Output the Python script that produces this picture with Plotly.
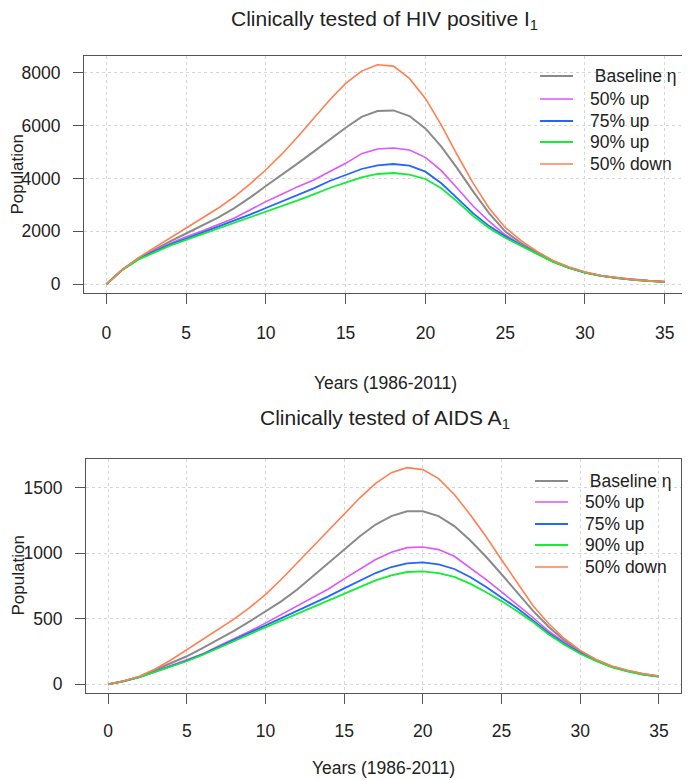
import plotly.graph_objects as go

years = list(range(36))

series_names = ["\u00a0Baseline \u03b7", "50% up", "75% up", "90% up", "50% down"]
series_colors = ["#8a8a8a", "#dd55ff", "#2266ff", "#11ee33", "#ff7f50"]
series_widths = [2.0, 1.6, 1.8, 1.8, 1.6]

# Clinically tested HIV positive I1
I1_baseline = [0, 550, 975, 1310, 1620, 1920, 2210, 2520, 2873, 3276, 3717, 4133, 4574, 5015, 5470, 5920, 6330, 6552,
               6577, 6363, 5897, 5204, 4385, 3503, 2684, 2000, 1560, 1190, 875, 636, 452, 325, 235, 171, 127, 92]
I1_up50 = [0, 548, 955, 1265, 1540, 1800, 2016, 2243, 2495, 2810, 3125, 3402, 3692, 3944, 4259, 4574, 4939, 5116,
           5153, 5078, 4800, 4297, 3629, 2950, 2380, 1870, 1500, 1160, 860, 626, 446, 320, 231, 168, 125, 90]
I1_up75 = [0, 545, 945, 1240, 1500, 1726, 1928, 2155, 2394, 2633, 2885, 3125, 3377, 3629, 3906, 4133, 4360, 4498,
           4549, 4486, 4259, 3818, 3251, 2680, 2200, 1810, 1470, 1145, 852, 620, 442, 316, 228, 165, 123, 88]
I1_up90 = [0, 540, 930, 1210, 1460, 1676, 1890, 2092, 2293, 2507, 2722, 2948, 3175, 3402, 3641, 3843, 4045, 4171,
           4208, 4145, 3982, 3629, 3125, 2580, 2120, 1760, 1450, 1130, 845, 615, 437, 312, 225, 162, 121, 86]
I1_down50 = [0, 555, 1000, 1380, 1760, 2142, 2495, 2873, 3300, 3790, 4330, 4920, 5582, 6275, 6968, 7598, 8064, 8303,
             8253, 7787, 7031, 6023, 4889, 3818, 2873, 2150, 1650, 1240, 900, 650, 460, 330, 240, 175, 130, 95]

# Clinically tested AIDS A1
A1_baseline = [0, 24, 58, 108, 158, 214, 276, 339, 408, 480, 556, 633, 722, 824, 926, 1028, 1130, 1219,
               1283, 1321, 1321, 1283, 1207, 1099, 975, 840, 698, 560, 437, 335, 252, 186, 137, 104, 79, 61]
A1_up50 = [0, 24, 56, 100, 142, 184, 232, 290, 345, 405, 467, 531, 594, 658, 727, 804, 880, 952,
           1008, 1043, 1048, 1028, 977, 890, 800, 705, 610, 510, 405, 320, 245, 182, 135, 102, 77, 60]
A1_up75 = [0, 24, 55, 97, 138, 180, 228, 283, 337, 393, 449, 502, 556, 612, 671, 732, 793, 849,
           895, 923, 931, 916, 880, 819, 745, 665, 580, 488, 390, 310, 238, 180, 133, 100, 75, 59]
A1_up90 = [0, 24, 55, 95, 136, 176, 224, 278, 330, 382, 435, 486, 537, 590, 643, 696, 747, 793,
           832, 857, 862, 849, 819, 768, 705, 635, 558, 475, 380, 302, 233, 178, 132, 99, 74, 58]
A1_down50 = [0, 26, 62, 117, 186, 263, 339, 416, 497, 585, 685, 800, 925, 1055, 1180, 1301, 1423, 1533,
             1615, 1653, 1638, 1569, 1449, 1296, 1130, 950, 770, 600, 462, 348, 259, 190, 140, 107, 81, 63]

x_ticks = [0, 5, 10, 15, 20, 25, 30, 35]
I1_ticks = [0, 2000, 4000, 6000, 8000]
A1_ticks = [0, 500, 1000, 1500]

top_title = "Clinically tested of HIV positive I<sub>1</sub>"
bottom_title = "Clinically tested of AIDS A<sub>1</sub>"
x_title = "Years (1986-2011)"
y_title = "Population"

FONT = "Liberation Sans, Arial, sans-serif"
TXT = "#222222"
OFF = 8              # page body margin
FW, FH = 682, 772    # figure size (visible part of the 690x780 window)


def px_x(p):
    return (p - OFF) / FW


def px_y(p):
    return 1 - (p - OFF) / FH


fig = go.Figure()
top_sets = [I1_baseline, I1_up50, I1_up75, I1_up90, I1_down50]
bot_sets = [A1_baseline, A1_up50, A1_up75, A1_up90, A1_down50]
for name, col, w, ys in zip(series_names, series_colors, series_widths, top_sets):
    fig.add_trace(go.Scatter(x=years, y=ys, mode="lines", name=name, showlegend=False,
                             line=dict(color=col, width=w), xaxis="x", yaxis="y"))
for name, col, w, ys in zip(series_names, series_colors, series_widths, bot_sets):
    fig.add_trace(go.Scatter(x=years, y=ys, mode="lines", name=name, showlegend=False,
                             line=dict(color=col, width=w), xaxis="x2", yaxis="y2"))

top_max = max(I1_down50)
bot_max = max(A1_down50)

axis_common = dict(showline=True, linecolor="#555555", linewidth=1, mirror=True,
                   ticks="outside", ticklen=10, tickcolor="#555555", tickwidth=1,
                   showgrid=True, gridcolor="#d6d6d6", griddash="dot", gridwidth=1,
                   zeroline=False, tickfont=dict(family=FONT, size=17.5, color=TXT))

fig.update_layout(
    width=FW, height=FH,
    margin=dict(l=0, r=0, t=0, b=0),
    paper_bgcolor="white", plot_bgcolor="white",
    font=dict(family=FONT, size=17.5, color=TXT),
    showlegend=False,
    xaxis=dict(domain=[px_x(84), px_x(687)], range=[-1.4, 36.4], tickvals=x_ticks,
               anchor="y", ticklabelstandoff=14, **axis_common),
    yaxis=dict(domain=[px_y(293), px_y(56)], range=[-0.04 * top_max, 1.04 * top_max],
               tickvals=I1_ticks, anchor="x", ticklabelstandoff=9, **axis_common),
    xaxis2=dict(domain=[px_x(86), px_x(681)], range=[-1.4, 36.4], tickvals=x_ticks,
                anchor="y2", ticklabelstandoff=12, **axis_common),
    yaxis2=dict(domain=[px_y(693), px_y(459)], range=[-0.04 * bot_max, 1.04 * bot_max],
                tickvals=A1_ticks, anchor="x2", ticklabelstandoff=9, **axis_common),
)

annotations = [
    dict(text=top_title, x=px_x(385), y=px_y(20), font=dict(family=FONT, size=21, color=TXT)),
    dict(text=bottom_title, x=px_x(385), y=px_y(419), font=dict(family=FONT, size=21, color=TXT)),
    dict(text=x_title, x=px_x(386), y=px_y(383), font=dict(family=FONT, size=17.5, color=TXT)),
    dict(text=x_title, x=px_x(384), y=px_y(768), font=dict(family=FONT, size=17.5, color=TXT)),
    dict(text=y_title, x=px_x(16.5), y=px_y(175), textangle=-90, font=dict(family=FONT, size=17, color=TXT)),
    dict(text=y_title, x=px_x(17.5), y=px_y(576), textangle=-90, font=dict(family=FONT, size=17, color=TXT)),
]
for a in annotations:
    a.update(xref="paper", yref="paper", showarrow=False, xanchor="center", yanchor="middle")

# legends (drawn in the R style: line sample + label, no box)
shapes = []
legend_specs = [
    dict(rows=[76, 99, 121, 142, 164], x0=540, x1=573, tx=588),
    dict(rows=[481, 502, 524, 545, 567], x0=535, x1=568, tx=583),
]
for spec in legend_specs:
    for yrow, name, col, w in zip(spec["rows"], series_names, series_colors, series_widths):
        shapes.append(dict(type="line", xref="paper", yref="paper",
                           x0=px_x(spec["x0"]), x1=px_x(spec["x1"]), y0=px_y(yrow), y1=px_y(yrow),
                           line=dict(color=col, width=w)))
        annotations.append(dict(text=name, x=px_x(spec["tx"]), y=px_y(yrow), xref="paper", yref="paper",
                                showarrow=False, xanchor="left", yanchor="middle",
                                font=dict(family=FONT, size=17.5, color=TXT)))

fig.update_layout(annotations=annotations, shapes=shapes)

fig.write_html("out.html")
